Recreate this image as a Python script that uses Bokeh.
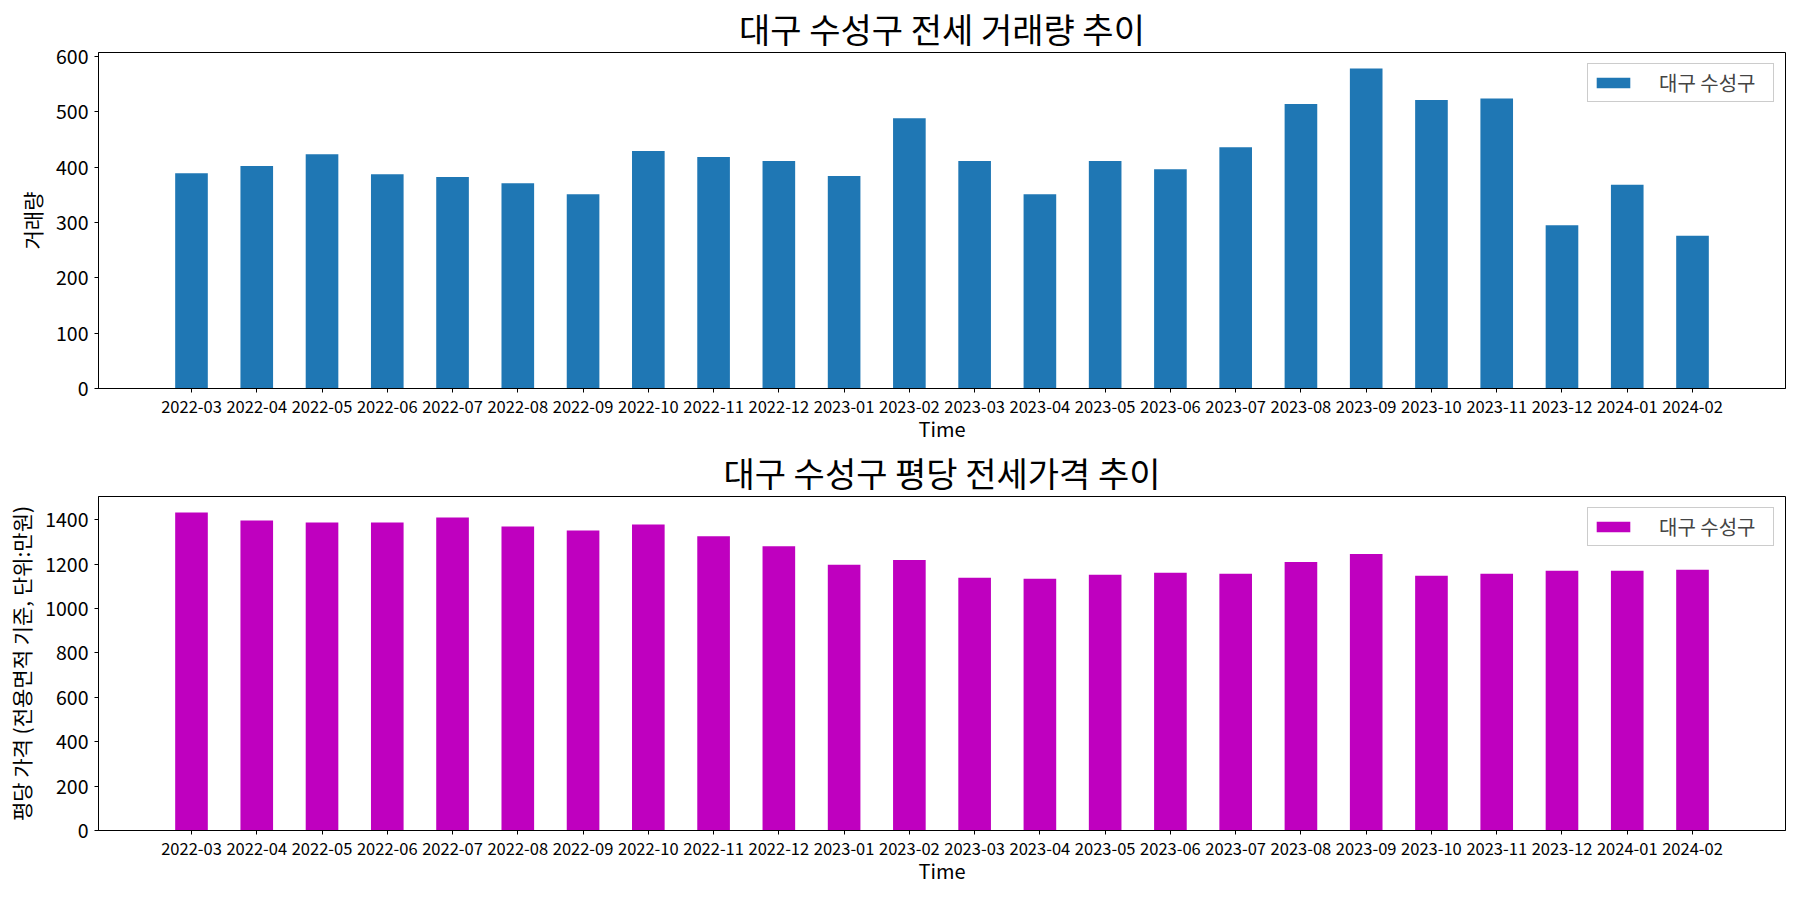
from bokeh.plotting import figure
from bokeh.models import ColumnDataSource, Range1d, FixedTicker, SingleIntervalTicker
from bokeh.layouts import column
from bokeh.embed import file_html
from bokeh.resources import INLINE

months = ["2022-03", "2022-04", "2022-05", "2022-06", "2022-07", "2022-08",
          "2022-09", "2022-10", "2022-11", "2022-12", "2023-01", "2023-02",
          "2023-03", "2023-04", "2023-05", "2023-06", "2023-07", "2023-08",
          "2023-09", "2023-10", "2023-11", "2023-12", "2024-01", "2024-02"]
volume = [389, 402, 423, 387, 382, 371, 351, 429, 418, 411, 384, 488,
          411, 351, 411, 396, 436, 514, 578, 521, 524, 295, 368, 276]
price = [1433, 1397, 1388, 1388, 1410, 1370, 1352, 1379, 1326, 1281, 1197, 1219,
         1139, 1134, 1152, 1161, 1157, 1210, 1246, 1148, 1157, 1170, 1170, 1175]
series_name = "대구 수성구"
title_volume = "대구 수성구 전세 거래량 추이"
title_price = "대구 수성구 평당 전세가격 추이"
ylabel_volume = "거래량"
ylabel_price = "평당 가격 (전용면적 기준, 단위:만원)"
xlabel = "Time"

FONT = "Noto Sans CJK KR"
idx = list(range(len(months)))


def make_fig(title, values, color, ylabel, yend, interval, height, b_top, b_bottom):
    src = ColumnDataSource(dict(x=idx, top=values, month=months))
    p = figure(width=1795, height=height, output_backend="svg", toolbar_location=None,
               x_range=Range1d(-1.425, len(months) + 0.425), y_range=Range1d(0, yend),
               min_border_left=98, min_border_right=10, min_border_top=b_top,
               min_border_bottom=b_bottom, title=title)
    p.vbar(x="x", top="top", width=0.5, source=src, color=color, line_color=None,
           legend_label=series_name)
    p.title.text_font = FONT
    p.title.text_font_size = "34px"
    p.title.text_font_style = "normal"
    p.title.align = "center"
    p.title.text_color = "black"
    p.title.standoff = 0
    p.title.offset = 0
    p.xgrid.visible = False
    p.ygrid.visible = False
    p.outline_line_color = "black"
    p.outline_line_alpha = 1
    p.outline_line_width = 1
    p.background_fill_color = "white"
    p.border_fill_color = "white"

    xa = p.xaxis[0]
    xa.ticker = FixedTicker(ticks=idx)
    xa.major_label_overrides = {i: m for i, m in zip(idx, months)}
    xa.major_label_text_font = FONT
    xa.major_label_text_font_size = "16.5px"
    xa.major_label_standoff = 8
    xa.axis_label = xlabel
    xa.axis_label_text_font_size = "20px"
    xa.axis_label_standoff = -2
    ya = p.yaxis[0]
    ya.ticker = SingleIntervalTicker(interval=interval)
    ya.major_label_text_font = FONT
    ya.major_label_text_font_size = "19.5px"
    ya.major_label_standoff = 6
    ya.axis_label = ylabel
    ya.axis_label_text_font_size = "21px"
    ya.axis_label_standoff = 6
    for ax in (xa, ya):
        ax.axis_label_text_font = FONT
        ax.axis_label_text_font_style = "normal"
        ax.axis_label_text_color = "black"
        ax.major_label_text_color = "black"
        ax.axis_line_color = "black"
        ax.major_tick_line_color = "black"
        ax.major_tick_out = 4
        ax.major_tick_in = 0
        ax.minor_tick_line_color = None

    lg = p.legend[0]
    lg.location = "top_right"
    lg.label_text_font = FONT
    lg.label_text_font_size = "20px"
    lg.glyph_width = 42
    lg.glyph_height = 13
    lg.label_standoff = 25
    lg.label_width = 110
    lg.padding = 4
    lg.margin = 11
    lg.border_line_color = "#cccccc"
    lg.border_line_alpha = 1
    lg.background_fill_alpha = 1
    return p


p1 = make_fig(title_volume, volume, "#1f77b4", ylabel_volume, 607, 100, 445, 52, 55)
p2 = make_fig(title_price, price, "#bf00bf", ylabel_price, 1505, 200, 445, 48, 60)

layout = column(p1, p2, spacing=0)
open("out.html", "w").write(file_html(layout, INLINE))
